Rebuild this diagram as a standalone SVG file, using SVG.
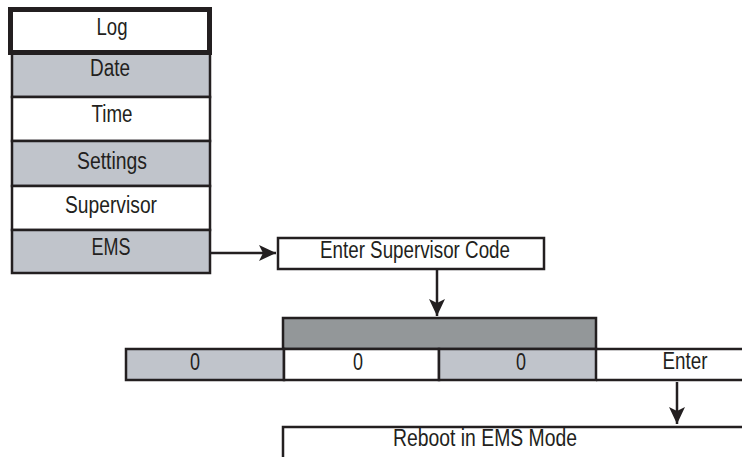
<svg xmlns="http://www.w3.org/2000/svg" width="742" height="457" viewBox="0 0 742 457">
<defs>
<style>
.box{stroke:#231f20;stroke-width:2.5}
.lg{fill:#c0c4cb}
.dg{fill:#939799}
.wh{fill:#ffffff}
.t{font-family:"Liberation Sans",Arial,sans-serif;font-size:23px;fill:#231f20;text-anchor:middle}
.c{stroke:#231f20;stroke-width:2.5;fill:none}
</style>
<marker id="ah" markerUnits="userSpaceOnUse" markerWidth="18" markerHeight="16" refX="17" refY="8" orient="auto">
<path d="M0,0 L17,8 L0,16 L4,8 Z" fill="#231f20"/>
</marker>
</defs>
<rect width="742" height="457" fill="#ffffff"/>
<g id="menu-date"><rect class="box lg" x="12" y="53" width="198" height="44"/><text class="t" x="110" y="76" textLength="40" lengthAdjust="spacingAndGlyphs">Date</text></g>
<g id="menu-time"><rect class="box wh" x="12" y="97" width="198" height="44"/><text class="t" x="112" y="122" textLength="41" lengthAdjust="spacingAndGlyphs">Time</text></g>
<g id="menu-settings"><rect class="box lg" x="12" y="141" width="198" height="45"/><text class="t" x="112" y="169" textLength="70" lengthAdjust="spacingAndGlyphs">Settings</text></g>
<g id="menu-supervisor"><rect class="box wh" x="12" y="186" width="198" height="44"/><text class="t" x="111" y="213" textLength="92" lengthAdjust="spacingAndGlyphs">Supervisor</text></g>
<g id="menu-ems"><rect class="box lg" x="12" y="230" width="198" height="43"/><text class="t" x="111" y="255" textLength="39" lengthAdjust="spacingAndGlyphs">EMS</text></g>
<g id="menu-log"><rect x="10.5" y="9.5" width="199" height="43" fill="#ffffff" stroke="#231f20" stroke-width="5"/><text class="t" x="112" y="35" textLength="31" lengthAdjust="spacingAndGlyphs">Log</text></g>
<g id="enter-code"><rect class="box wh" x="278" y="238" width="266" height="31"/><text class="t" x="415" y="258" textLength="190" lengthAdjust="spacingAndGlyphs">Enter Supervisor Code</text></g>
<g id="display"><rect class="box dg" x="283" y="318" width="313" height="31"/></g>
<g id="digit1"><rect class="box lg" x="126" y="349" width="158" height="31"/><text class="t" x="195" y="370" textLength="10" lengthAdjust="spacingAndGlyphs">0</text></g>
<g id="digit2"><rect class="box wh" x="284" y="349" width="155" height="31"/><text class="t" x="358" y="370" textLength="10" lengthAdjust="spacingAndGlyphs">0</text></g>
<g id="digit3"><rect class="box lg" x="439" y="349" width="157" height="31"/><text class="t" x="521" y="370" textLength="10" lengthAdjust="spacingAndGlyphs">0</text></g>
<g id="enter-key"><path class="c" d="M596,349 H742 M596,380 H742"/><text class="t" x="685" y="369" textLength="45" lengthAdjust="spacingAndGlyphs">Enter</text></g>
<g id="reboot"><path class="c" d="M742,427 H283 V457"/><text class="t" x="485" y="446" textLength="184" lengthAdjust="spacingAndGlyphs">Reboot in EMS Mode</text></g>
<g id="connectors">
<line class="c" x1="210" y1="253" x2="276" y2="253" marker-end="url(#ah)"/>
<line class="c" x1="437" y1="269" x2="437" y2="316" marker-end="url(#ah)"/>
<line class="c" x1="677" y1="382" x2="677" y2="424" marker-end="url(#ah)"/>
</g>
</svg>
